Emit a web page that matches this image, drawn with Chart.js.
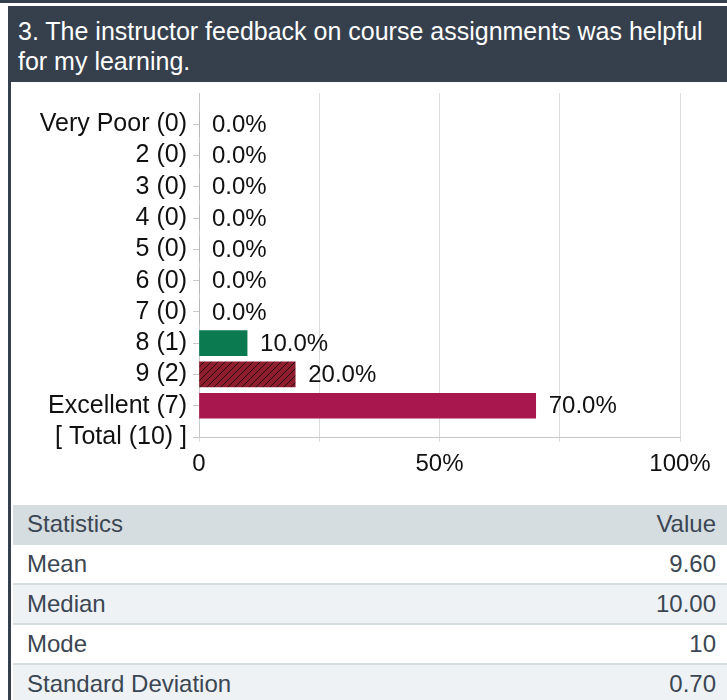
<!DOCTYPE html>
<html>
<head>
<meta charset="utf-8">
<script src="https://cdn.jsdelivr.net/npm/chart.js@4.4.1/dist/chart.umd.min.js"></script>
<style>
  body { margin: 0; background: #fff; font-family: 'Liberation Sans', Arial, sans-serif; width: 727px; height: 700px; overflow: hidden; }
  #topline { position: absolute; left: 0; top: 0; width: 727px; height: 3px; background: #36404d; }
  #box { position: absolute; left: 8px; top: 6px; width: 719px; height: 694px; }
  #header { box-sizing: border-box; background: #36404d; color: #fff; font-size: 25px; line-height: 30px; padding: 10px 10px 0 10px; height: 76px; }
  #body { position: absolute; left: 0; top: 76px; width: 719px; height: 618px; border-left: 3px solid #36404d; }
  #chartWrap { position: absolute; left: 0; top: -10px; width: 716px; height: 430px; }
  table { position: absolute; left: 2px; top: 423px; width: 714px; border-collapse: collapse; font-size: 24px; color: #3b4652; }
  td { height: 38px; padding: 0 11px 0 14px; border-bottom: 2px solid #d6dde1; }
  tr.head td { background: #d6dde1; }
  tr.alt td { background: #eef2f5; }
  td.v { text-align: right; }
</style>
</head>
<body>
<div id="topline"></div>
<div id="box">
  <div id="header">3. The instructor feedback on course assignments was helpful for my learning.</div>
  <div id="body">
    <div id="chartWrap"><canvas id="barChart"></canvas></div>
    <table id="stats"></table>
  </div>
</div>
<script>
// data
var categories = ['Very Poor', '2', '3', '4', '5', '6', '7', '8', '9', 'Excellent']
var counts = [0, 0, 0, 0, 0, 0, 0, 1, 2, 7]
var percents = [0, 0, 0, 0, 0, 0, 0, 10, 20, 70]
var totalLabel = '[ Total (10) ]'
var xTickLabels = { 0: '0', 50: '50%', 100: '100%' }
var statNames = ['Mean', 'Median', 'Mode', 'Standard Deviation']
var statValues = ['9.60', '10.00', '10', '0.70']

var yLabels = categories.map(function (c, i) { return c + ' (' + counts[i] + ')' })
yLabels.push(totalLabel)

// hatched fill for the "9" bar
function hatch() {
  var p = document.createElement('canvas')
  p.width = 7; p.height = 7
  var c = p.getContext('2d')
  c.fillStyle = '#8e1d2e'
  c.fillRect(0, 0, 7, 7)
  c.strokeStyle = '#2a0d12'
  c.lineWidth = 1
  c.beginPath()
  c.moveTo(-1, 8); c.lineTo(8, -1)
  c.moveTo(6, 8); c.lineTo(8, 6)
  c.moveTo(-1, 1); c.lineTo(1, -1)
  c.stroke()
  return document.getElementById('barChart').getContext('2d').createPattern(p, 'repeat')
}

var barColors = percents.map(function (v, i) {
  if (categories[i] === '8') return '#0b7a50'
  if (categories[i] === '9') return hatch()
  if (categories[i] === 'Excellent') return '#a9174f'
  return '#999'
})

var valueLabels = {
  id: 'valueLabels',
  afterDatasetsDraw: function (chart) {
    var ctx = chart.ctx
    ctx.save()
    ctx.font = '24px "Liberation Sans", Arial, sans-serif'
    ctx.fillStyle = '#111'
    ctx.textBaseline = 'middle'
    chart.getDatasetMeta(0).data.forEach(function (bar, i) {
      ctx.fillText(percents[i].toFixed(1) + '%', bar.x + 13, bar.y + 1)
    })
    ctx.restore()
  }
}

var fontSpec = { family: "'Liberation Sans', Arial, sans-serif", size: 24 }

new Chart(document.getElementById('barChart'), {
  type: 'bar',
  data: {
    datasets: [{
      data: percents.map(function (v, i) { return { x: v, y: i } }),
      backgroundColor: barColors,
      borderWidth: 0,
      barThickness: 25
    }]
  },
  options: {
    indexAxis: 'y',
    responsive: true,
    maintainAspectRatio: false,
    animation: false,
    layout: { autoPadding: false, padding: { left: 0, right: 47, top: 3, bottom: 20 } },
    plugins: { legend: { display: false }, tooltip: { enabled: false } },
    scales: {
      y: {
        type: 'linear',
        reverse: true,
        offset: false,
        min: -1,
        max: yLabels.length - 1,
        afterFit: function (s) { s.width = 188 },
        border: { color: '#c8c8c8' },
        grid: {
          offset: false,
          drawOnChartArea: false,
          tickLength: 6,
          color: function (c) { return c.tick && c.tick.value === -1 ? 'rgba(0,0,0,0)' : '#c8c8c8' }
        },
        ticks: {
          stepSize: 1,
          autoSkip: false,
          padding: 6,
          color: '#111',
          font: { family: fontSpec.family, size: 25 },
          callback: function (v) { return yLabels[v] || '' }
        }
      },
      x: {
        min: 0,
        max: 100,
        afterFit: function (s) { s.height = 45 },
        border: { color: '#c8c8c8' },
        grid: { color: '#dcdcdc', tickLength: 5 },
        ticks: {
          stepSize: 25,
          maxRotation: 0,
          padding: 8,
          color: '#111',
          font: fontSpec,
          callback: function (v) { return xTickLabels[v] || '' }
        }
      }
    }
  },
  plugins: [valueLabels]
})

// statistics table
var rows = '<tr class="head"><td>Statistics</td><td class="v">Value</td></tr>'
statNames.forEach(function (n, i) {
  rows += '<tr' + (i % 2 ? ' class="alt"' : '') + '><td>' + n + '</td><td class="v">' + statValues[i] + '</td></tr>'
})
document.getElementById('stats').innerHTML = rows
</script>
</body>
</html>
